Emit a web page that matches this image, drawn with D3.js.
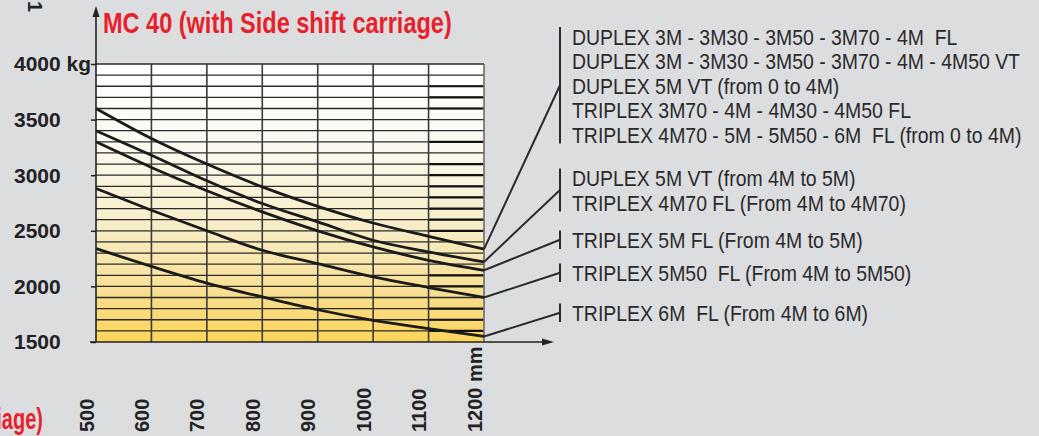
<!DOCTYPE html>
<html>
<head>
<meta charset="utf-8">
<script src="https://cdn.jsdelivr.net/npm/d3@7"></script>
<style>
  html, body { margin: 0; padding: 0; background: #dcdddf; }
  svg { display: block; }
  text { white-space: pre; }
</style>
</head>
<body>
<div id="app"></div>
<script>
// load centre distance (mm) vs capacity (kg)
const distances = [500, 600, 700, 800, 900, 1000, 1100, 1200];
const capDuplexLow = [3600, 3330, 3100, 2895, 2720, 2570, 2450, 2335];
const capDuplex5M = [3400, 3180, 2950, 2745, 2580, 2415, 2310, 2220];
const capTriplex5M = [3300, 3070, 2860, 2670, 2500, 2355, 2235, 2145];
const capTriplex5M50 = [2880, 2685, 2500, 2325, 2205, 2085, 1990, 1900];
const capTriplex6M = [2340, 2180, 2030, 1905, 1790, 1695, 1620, 1550];
const yTicks = [1500, 2000, 2500, 3000, 3500, 4000];

const legendDuplexLow = [
  "DUPLEX 3M - 3M30 - 3M50 - 3M70 - 4M  FL",
  "DUPLEX 3M - 3M30 - 3M50 - 3M70 - 4M - 4M50 VT",
  "DUPLEX 5M VT (from 0 to 4M)",
  "TRIPLEX 3M70 - 4M - 4M30 - 4M50 FL",
  "TRIPLEX 4M70 - 5M - 5M50 - 6M  FL (from 0 to 4M)"
];
const legendDuplex5M = ["DUPLEX 5M VT (from 4M to 5M)", "TRIPLEX 4M70 FL (From 4M to 4M70)"];
const legendTriplex5M = ["TRIPLEX 5M FL (From 4M to 5M)"];
const legendTriplex5M50 = ["TRIPLEX 5M50  FL (From 4M to 5M50)"];
const legendTriplex6M = ["TRIPLEX 6M  FL (From 4M to 6M)"];

// rows where the last column line was printed heavier
const heavyRows = [3800, 3700, 3600, 3300, 3100, 3000, 2900, 2800, 2700, 2600, 2500, 2100, 2000, 1800, 1700, 1600];

const series = [
  { values: capDuplexLow, labels: legendDuplexLow, top: 44.5 },
  { values: capDuplex5M, labels: legendDuplex5M, top: 186 },
  { values: capTriplex5M, labels: legendTriplex5M, top: 248 },
  { values: capTriplex5M50, labels: legendTriplex5M50, top: 281 },
  { values: capTriplex6M, labels: legendTriplex6M, top: 321 }
];

const width = 1039;
const height = 436;
const sans = "'Liberation Sans', Arial, sans-serif";

const svg = d3.select("#app")
  .append("svg")
  .attr("width", width)
  .attr("height", height)
  .attr("viewBox", [0, 0, width, height]);

const x = d3.scaleLinear().domain([500, 1200]).range([96, 484]);
const y = d3.scaleLinear().domain([1500, 4000]).range([342, 64]);

const grad = svg.append("defs").append("linearGradient")
  .attr("id", "fill").attr("x1", 0).attr("y1", 0).attr("x2", 0).attr("y2", 1);
grad.append("stop").attr("offset", "0").attr("stop-color", "#ffffff");
grad.append("stop").attr("offset", "0.3").attr("stop-color", "#fbf9ef");
grad.append("stop").attr("offset", "0.6").attr("stop-color", "#f7ecc4");
grad.append("stop").attr("offset", "0.82").attr("stop-color", "#f8df92");
grad.append("stop").attr("offset", "1").attr("stop-color", "#fbd458");

svg.append("rect")
  .attr("x", x(500)).attr("y", y(4000))
  .attr("width", x(1200) - x(500)).attr("height", y(1500) - y(4000))
  .attr("fill", "url(#fill)");

// grid
const rows = d3.range(1600, 4001, 100);
svg.append("g")
  .selectAll("line")
  .data(rows)
  .join("line")
  .attr("x1", x(500)).attr("x2", x(1200))
  .attr("y1", d => y(d)).attr("y2", d => y(d))
  .attr("stroke", "#2b2b2b").attr("stroke-width", 1.3);

svg.append("g")
  .selectAll("line")
  .data(heavyRows)
  .join("line")
  .attr("x1", x(1100)).attr("x2", x(1200) - 1)
  .attr("y1", d => y(d)).attr("y2", d => y(d))
  .attr("stroke", "#111").attr("stroke-width", 2.2);

svg.append("g")
  .selectAll("line")
  .data(d3.range(600, 1201, 100))
  .join("line")
  .attr("x1", d => x(d)).attr("x2", d => x(d))
  .attr("y1", y(4000)).attr("y2", y(1500))
  .attr("stroke", d => d === 1200 ? "#6a6a6a" : "#3a3a3a")
  .attr("stroke-width", 1.6);

// curves
const line = d3.line()
  .x((d, i) => x(distances[i]))
  .y(d => y(d))
  .curve(d3.curveMonotoneX);

svg.append("g")
  .selectAll("path")
  .data(series)
  .join("path")
  .attr("d", d => line(d.values))
  .attr("fill", "none")
  .attr("stroke", "#1b1b1b")
  .attr("stroke-width", 2.8);

// axes
const yAxis = svg.append("g")
  .attr("transform", `translate(${x(500)},0)`)
  .call(d3.axisLeft(y).tickValues(yTicks).tickSize(5)
    .tickFormat(d => d === 4000 ? "4000 kg" : d));
yAxis.select(".domain").remove();
yAxis.selectAll(".tick line").attr("stroke", "#222").attr("stroke-width", 1.5);
yAxis.selectAll(".tick text")
  .attr("text-anchor", "start")
  .attr("x", 14 - x(500))
  .attr("dy", "0.33em")
  .attr("fill", "#222")
  .style("font", `bold 21px ${sans}`);

const xAxis = svg.append("g")
  .attr("transform", `translate(0,${y(1500)})`)
  .call(d3.axisBottom(x).tickValues(distances).tickSize(0)
    .tickFormat(d => d === 1200 ? "1200 mm" : d));
xAxis.select(".domain").remove();
xAxis.selectAll(".tick text")
  .attr("transform", "rotate(-90)")
  .attr("text-anchor", "start")
  .attr("x", -90)
  .attr("y", -3)
  .attr("dy", 0)
  .attr("fill", "#222")
  .style("font", `bold 20px ${sans}`);

// arrowed axis lines
svg.append("line")
  .attr("x1", x(500)).attr("x2", x(500))
  .attr("y1", y(1500)).attr("y2", 14)
  .attr("stroke", "#222").attr("stroke-width", 1.6);
svg.append("path")
  .attr("d", `M${x(500)},6 L${x(500) - 3.5},17 L${x(500) + 3.5},17 Z`)
  .attr("fill", "#222");
svg.append("line")
  .attr("x1", 90).attr("x2", 546)
  .attr("y1", y(1500)).attr("y2", y(1500))
  .attr("stroke", "#222").attr("stroke-width", 1.6);
svg.append("path")
  .attr("d", `M554,${y(1500)} L542,${y(1500) - 3.5} L542,${y(1500) + 3.5} Z`)
  .attr("fill", "#222");

// legend brackets, leaders and text (printed font is condensed, so squeeze it)
const lineGap = 24.5;
const bracketX = 560;
const legend = svg.append("g");
series.forEach(s => {
  const y0 = s.top - 17.5;
  const y1 = s.top + (s.labels.length - 1) * lineGap + 1;
  const mid = (y0 + y1) / 2;
  legend.append("line")
    .attr("x1", bracketX).attr("x2", bracketX)
    .attr("y1", y0).attr("y2", y1)
    .attr("stroke", "#2a2a2a").attr("stroke-width", 2);
  legend.append("line")
    .attr("x1", x(1200)).attr("y1", y(s.values[s.values.length - 1]))
    .attr("x2", bracketX).attr("y2", mid)
    .attr("stroke", "#2a2a2a").attr("stroke-width", 2);
  legend.selectAll(null)
    .data(s.labels)
    .join("text")
    .attr("transform", (d, i) => `translate(572,${s.top + i * lineGap}) scale(0.883,1)`)
    .attr("fill", "#2a2a2a")
    .style("font", `22px ${sans}`)
    .text(d => d);
});

// title
svg.append("text")
  .attr("transform", "translate(103,33) scale(0.784,1)")
  .attr("fill", "#e8202a")
  .style("font", `bold 30px ${sans}`)
  .text("MC 40 (with Side shift carriage)");

// cut-off pieces at the page edges
svg.append("text")
  .attr("transform", "translate(43,429) scale(0.69,1)")
  .attr("text-anchor", "end")
  .attr("fill", "#e8202a")
  .style("font", `bold 29px ${sans}`)
  .text("(with Side shift carriage)");

svg.append("text")
  .attr("transform", "translate(28,1) rotate(90)")
  .attr("fill", "#222")
  .style("font", `bold 20px ${sans}`)
  .text("1");
</script>
</body>
</html>
